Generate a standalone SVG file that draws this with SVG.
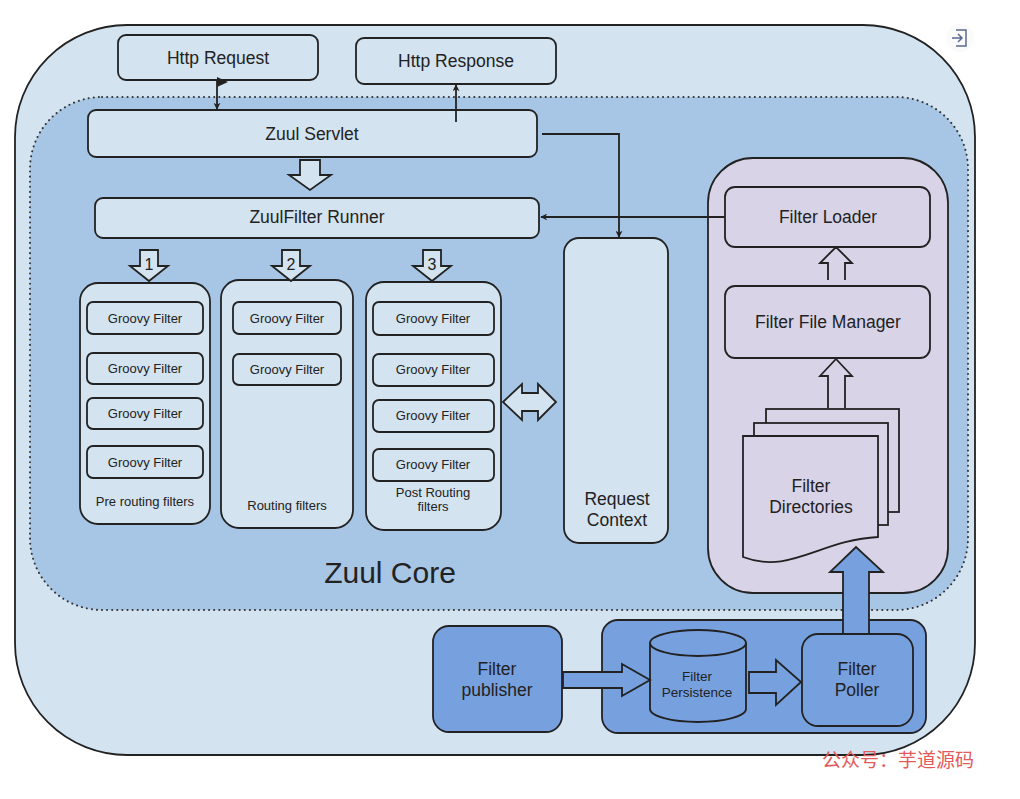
<svg xmlns="http://www.w3.org/2000/svg" width="1020" height="799" viewBox="0 0 1020 799">
<style>
.b{stroke:#222;stroke-width:1.8}
.lt{fill:#d3e3f0}
.pu{fill:#d9d3e7}
.bl{fill:#77a0df}
.t{font-family:"Liberation Sans",Arial,sans-serif;fill:#222;text-anchor:middle}
.l{font-size:17.5px}
.s{font-size:13px}
.ln{fill:none;stroke:#222;stroke-width:1.8}
</style>
<defs>
<marker id="ah" viewBox="0 0 10 10" refX="9" refY="5" markerWidth="7" markerHeight="7" orient="auto" markerUnits="userSpaceOnUse">
<path d="M0,0 L10,5 L0,10 L3,5 Z" fill="#222"/>
</marker>
</defs>
<rect width="1020" height="799" fill="#fff"/>
<g id="outer">
<rect x="15" y="25" width="960" height="730" rx="112" ry="112" class="b lt"/>
</g>
<g id="zuul-core">
<rect x="30" y="97" width="938" height="513" rx="72" ry="72" fill="#a7c5e4" stroke="#333" stroke-width="2" stroke-dasharray="0.1 5" stroke-linecap="round"/>
<text x="390" y="583" class="t" font-size="30">Zuul Core</text>
</g>
<g id="http-request">
<rect x="118" y="35" width="200" height="45" rx="8" class="b lt"/>
<text x="218" y="64" class="t l">Http Request</text>
</g>
<g id="http-response">
<rect x="356" y="38" width="200" height="46" rx="8" class="b lt"/>
<text x="456" y="67" class="t l">Http Response</text>
</g>
<g id="zuul-servlet">
<rect x="88" y="110" width="449" height="47" rx="8" class="b lt"/>
<text x="312" y="140" class="t l">Zuul Servlet</text>
</g>
<g id="zuulfilter-runner">
<rect x="95" y="198" width="444" height="40" rx="8" class="b lt"/>
<text x="317" y="223" class="t l">ZuulFilter Runner</text>
</g>
<g id="request-context">
<rect x="564" y="238" width="104" height="305" rx="15" class="b lt"/>
<text x="617" y="505" class="t l">Request</text>
<text x="617" y="526" class="t l">Context</text>
</g>
<g id="pre-routing">
<rect x="80" y="283" width="130" height="241" rx="18" class="b lt"/>
<rect x="87" y="302" width="116" height="32" rx="6" class="b lt"/>
<text x="145" y="323" class="t s">Groovy Filter</text>
<rect x="87" y="353" width="116" height="31" rx="6" class="b lt"/>
<text x="145" y="373" class="t s">Groovy Filter</text>
<rect x="87" y="398" width="116" height="31" rx="6" class="b lt"/>
<text x="145" y="418" class="t s">Groovy Filter</text>
<rect x="87" y="446" width="116" height="32" rx="6" class="b lt"/>
<text x="145" y="467" class="t s">Groovy Filter</text>
<text x="145" y="506" class="t s">Pre routing filters</text>
</g>
<g id="routing">
<rect x="221" y="280" width="132" height="248" rx="18" class="b lt"/>
<rect x="233" y="302" width="108" height="32" rx="6" class="b lt"/>
<text x="287" y="323" class="t s">Groovy Filter</text>
<rect x="233" y="354" width="108" height="31" rx="6" class="b lt"/>
<text x="287" y="374" class="t s">Groovy Filter</text>
<text x="287" y="510" class="t s">Routing filters</text>
</g>
<g id="post-routing">
<rect x="366" y="282" width="135" height="248" rx="18" class="b lt"/>
<rect x="373" y="302" width="121" height="33" rx="6" class="b lt"/>
<text x="433" y="323" class="t s">Groovy Filter</text>
<rect x="373" y="354" width="121" height="32" rx="6" class="b lt"/>
<text x="433" y="374" class="t s">Groovy Filter</text>
<rect x="373" y="400" width="121" height="32" rx="6" class="b lt"/>
<text x="433" y="420" class="t s">Groovy Filter</text>
<rect x="373" y="449" width="121" height="32" rx="6" class="b lt"/>
<text x="433" y="469" class="t s">Groovy Filter</text>
<text x="433" y="497" class="t s">Post Routing</text>
<text x="433" y="511" class="t s">filters</text>
</g>
<g id="filter-loader-group">
<rect x="708" y="158" width="240" height="435" rx="45" class="b pu"/>
</g>
<g id="filter-loader">
<rect x="725" y="187" width="205" height="60" rx="10" class="b pu"/>
<text x="828" y="223" class="t l">Filter Loader</text>
</g>
<g id="filter-file-manager">
<rect x="725" y="286" width="205" height="72" rx="10" class="b pu"/>
<text x="828" y="328" class="t l">Filter File Manager</text>
</g>
<g id="filter-directories">
<rect x="766" y="409" width="133" height="103" class="b pu"/>
<rect x="754" y="423" width="134" height="102" class="b pu"/>
<path d="M743,436 H878 V537 C820,540 790,575 743,557 Z" class="b pu"/>
<text x="811" y="492" class="t l">Filter</text>
<text x="811" y="513" class="t l">Directories</text>
</g>
<g id="filter-publisher">
<rect x="433" y="626" width="129" height="106" rx="16" class="b bl"/>
<text x="497" y="675" class="t" font-size="17.5">Filter</text>
<text x="497" y="696" class="t" font-size="17.5">publisher</text>
</g>
<g id="poller-group">
<rect x="602" y="620" width="324" height="113" rx="16" class="b bl"/>
</g>
<g id="filter-persistence">
<path d="M650,643 V709 A48,13 0 0 0 746,709 V643" class="b bl"/>
<ellipse cx="698" cy="643" rx="48" ry="13" class="b bl"/>
<text x="697" y="681" class="t" font-size="13.5">Filter</text>
<text x="697" y="697" class="t" font-size="13.5">Persistence</text>
</g>
<g id="filter-poller">
<rect x="802" y="634" width="111" height="92" rx="16" class="b bl"/>
<text x="857" y="675" class="t" font-size="17.5">Filter</text>
<text x="857" y="696" class="t" font-size="17.5">Poller</text>
</g>
<g id="connectors">
<line x1="217" y1="81" x2="217" y2="109" class="ln" marker-end="url(#ah)"/>
<path d="M217,77 L228,82 L217,87 Z" fill="#222"/>
<line x1="456" y1="122" x2="456" y2="85" class="ln" marker-end="url(#ah)"/>
<path d="M542,134 H619 V237" class="ln" marker-end="url(#ah)"/>
<line x1="725" y1="217" x2="541" y2="217" class="ln" marker-end="url(#ah)"/>
<path d="M300,160 H320 V175 H331 L310,190 L289,175 H300 Z" class="b lt" stroke-width="1.5"/>
<path d="M140,250 H158 V266 H168 L149,281 L130,266 H140 Z" class="b lt" stroke-width="1.5"/>
<text x="149" y="270" class="t" font-size="16">1</text>
<path d="M282,250 H300 V266 H310 L291,281 L272,266 H282 Z" class="b lt" stroke-width="1.5"/>
<text x="291" y="270" class="t" font-size="16">2</text>
<path d="M423,250 H441 V266 H451 L432,281 L413,266 H423 Z" class="b lt" stroke-width="1.5"/>
<text x="432" y="270" class="t" font-size="16">3</text>
<path d="M503,402 L522,384 V393 H538 V384 L556,402 L538,420 V411 H522 V420 Z" class="b lt" stroke-width="1.5"/>
<path d="M828,280 V263 H820 L836,247 L852,263 H845 V280" class="b pu" stroke-width="1.5"/>
<path d="M828,408 V376 H820 L836,359 L852,376 H845 V408" class="b pu" stroke-width="1.5"/>
<path d="M843,633 V572 H830 L856,547 L883,572 H869 V633" class="b bl" stroke-width="1.5"/>
<path d="M563,672 H622 V664 L650,680 L622,696 V688 H563 Z" class="b bl" stroke-width="1.5"/>
<path d="M749,672 H776 V660 L801,682 L776,705 V693 H749 Z" class="b bl" stroke-width="1.5"/>
</g>
<g id="icon">
<circle cx="960" cy="38" r="14" fill="#fafafa"/>
<path d="M956,30 H966 V46 H956" fill="none" stroke="#5a6a90" stroke-width="1.5"/>
<path d="M952,38 H962 M958,34 L962,38 L958,42" fill="none" stroke="#5a6a90" stroke-width="1.5"/>
</g>
<text x="898" y="767" font-family="'Noto Sans CJK SC',sans-serif" font-size="19" fill="#e25a5a" text-anchor="middle">公众号：芋道源码</text>
</svg>
